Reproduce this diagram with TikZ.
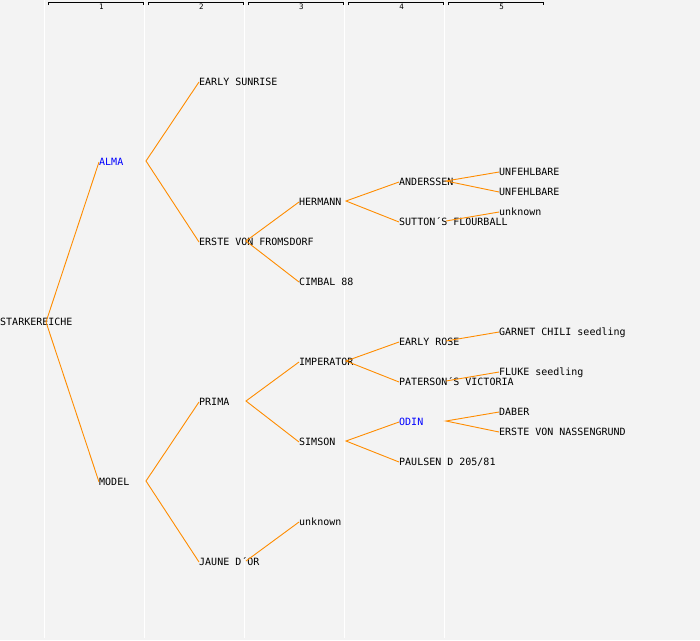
\documentclass[tikz,border=0pt]{standalone}
\usepackage{fontspec}
\newfontfamily\monofont{DejaVu Sans Mono}
\definecolor{bg}{RGB}{243,243,243}
\definecolor{edge}{RGB}{255,140,0}
\definecolor{hl}{RGB}{0,0,255}
\begin{document}
\begin{tikzpicture}[x=1pt,y=-1pt,
  lbl/.style={anchor=west,inner sep=0pt,font=\monofont\fontsize{10}{10}\selectfont,text height=7pt,text depth=0pt},
  hil/.style={lbl,text=hl},
  conn/.style={draw=edge,line width=0.9pt},
  grid/.style={draw=white,line width=1.6pt},
  brk/.style={draw=black,line width=0.9pt},
  hdr/.style={inner sep=0pt,font=\monofont\fontsize{7.5}{7.5}\selectfont}]
\fill[bg] (0,0) rectangle (700,640);
\useasboundingbox (0,0) rectangle (700,640);
% column separators
\foreach \i in {0,...,4}{
  \draw[grid] (44.5+100*\i,0) -- (44.5+100*\i,638);
}
% header
\foreach \i in {1,...,5}{
  \coordinate (bl\i) at (48+100*\i-100,5);
  \coordinate (br\i) at (143+100*\i-100,5);
  \draw[brk] (bl\i) -- ++(0,-3) -| (br\i);
  \node[hdr] (h\i) at (101.5+100*\i-100,7) {\i};
}
% nodes
\node[lbl] (stark) at (0,322) {STARKEREICHE};
\node[hil] (alma) at (99,162) {ALMA};
\node[lbl] (model) at (99,482) {MODEL};
\node[lbl] (sunrise) at (199,82) {EARLY SUNRISE};
\node[lbl] (erste) at (199,242) {ERSTE VON FROMSDORF};
\node[lbl] (prima) at (199,402) {PRIMA};
\node[lbl] (jaune) at (199,562) {JAUNE D´OR};
\node[lbl] (hermann) at (299,202) {HERMANN};
\node[lbl] (cimbal) at (299,282) {CIMBAL 88};
\node[lbl] (imperator) at (299,362) {IMPERATOR};
\node[lbl] (simson) at (299,442) {SIMSON};
\node[lbl] (unk1) at (299,522) {unknown};
\node[lbl] (anderssen) at (399,182) {ANDERSSEN};
\node[lbl] (sutton) at (399,222) {SUTTON´S FLOURBALL};
\node[lbl] (erose) at (399,342) {EARLY ROSE};
\node[lbl] (paterson) at (399,382) {PATERSON´S VICTORIA};
\node[hil] (odin) at (399,422) {ODIN};
\node[lbl] (paulsen) at (399,462) {PAULSEN D 205/81};
\node[lbl] (unf1) at (499,172) {UNFEHLBARE};
\node[lbl] (unf2) at (499,192) {UNFEHLBARE};
\node[lbl] (unk2) at (499,212) {unknown};
\node[lbl] (garnet) at (499,332) {GARNET CHILI seedling};
\node[lbl] (fluke) at (499,372) {FLUKE seedling};
\node[lbl] (daber) at (499,412) {DABER};
\node[lbl] (nassen) at (499,432) {ERSTE VON NASSENGRUND};
% junctions
\coordinate (j-stark) at (46,322);
\coordinate (j-alma) at (146,161);
\coordinate (j-model) at (146,481);
\coordinate (j-erste) at (246,241);
\coordinate (j-prima) at (246,401);
\coordinate (j-jaune) at (246,561);
\coordinate (j-hermann) at (346,201);
\coordinate (j-imperator) at (346,361);
\coordinate (j-simson) at (346,441);
\coordinate (j-anderssen) at (446,181);
\coordinate (j-sutton) at (446,221);
\coordinate (j-erose) at (446,341);
\coordinate (j-paterson) at (446,381);
\coordinate (j-odin) at (446,421);
% connectors
\draw[conn] (alma.west) -- (j-stark) -- (model.west);
\draw[conn] (sunrise.west) -- (j-alma) -- (erste.west);
\draw[conn] (prima.west) -- (j-model) -- (jaune.west);
\draw[conn] (hermann.west) -- (j-erste) -- (cimbal.west);
\draw[conn] (imperator.west) -- (j-prima) -- (simson.west);
\draw[conn] (j-jaune) -- (unk1.west);
\draw[conn] (anderssen.west) -- (j-hermann) -- (sutton.west);
\draw[conn] (erose.west) -- (j-imperator) -- (paterson.west);
\draw[conn] (odin.west) -- (j-simson) -- (paulsen.west);
\draw[conn] (unf1.west) -- (j-anderssen) -- (unf2.west);
\draw[conn] (j-sutton) -- (unk2.west);
\draw[conn] (j-erose) -- (garnet.west);
\draw[conn] (j-paterson) -- (fluke.west);
\draw[conn] (daber.west) -- (j-odin) -- (nassen.west);
\end{tikzpicture}
\end{document}
